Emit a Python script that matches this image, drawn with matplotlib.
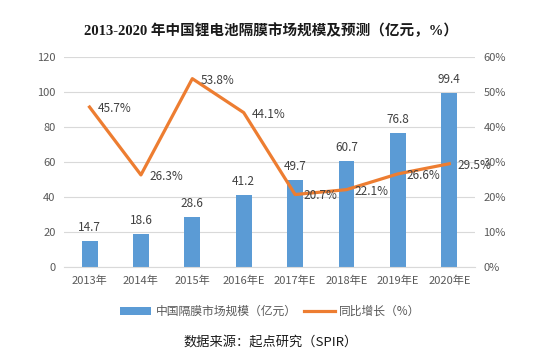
import matplotlib
matplotlib.use("Agg")
import matplotlib.pyplot as plt
import numpy as np

plt.rcParams['font.family'] = ['Noto Sans CJK SC', 'DejaVu Sans']

categories = ["2013年", "2014年", "2015年", "2016年E", "2017年E", "2018年E", "2019年E", "2020年E"]
market_size = [14.7, 18.6, 28.6, 41.2, 49.7, 60.7, 76.8, 99.4]
growth = [45.7, 26.3, 53.8, 44.1, 20.7, 22.1, 26.6, 29.5]
left_ticks = [0, 20, 40, 60, 80, 100, 120]
right_ticks = [0, 10, 20, 30, 40, 50, 60]

bar_color = "#5B9BD5"
line_color = "#ED7D31"
text_color = "#404040"
tick_color = "#595959"

fig = plt.figure(figsize=(5.41, 3.56), dpi=100)
ax = fig.add_axes([0.118, 0.25, 0.76, 0.59])
x = np.arange(len(categories))

bars = ax.bar(x, market_size, width=0.31, color=bar_color, zorder=2,
              label="中国隔膜市场规模（亿元）")
ax.set_ylim(0, 120)
ax.set_xlim(-0.5, len(categories) - 0.5)
ax.set_yticks(left_ticks)
ax.set_yticklabels([str(t) for t in left_ticks])
ax.set_xticks(x)
ax.set_xticklabels(categories)
ax.grid(axis='y', color="#D9D9D9", linewidth=0.8, zorder=0)
for s in ['top', 'right', 'left']:
    ax.spines[s].set_visible(False)
ax.spines['bottom'].set_color("#D9D9D9")
ax.tick_params(axis='both', length=0, labelsize=8, colors=tick_color, pad=6)

for xi, v in zip(x, market_size):
    ax.annotate(f"{v}", (xi, v), xytext=(0, 5), textcoords='offset points',
                ha='center', va='bottom', fontsize=8.5, color=text_color)

ax2 = ax.twinx()
ax2.set_ylim(0, 60)
ax2.set_yticks(right_ticks)
ax2.set_yticklabels([f"{t}%" for t in right_ticks])
line, = ax2.plot(x, growth, color=line_color, linewidth=2.3, zorder=3,
                 label="同比增长（%）")
for s in ['top', 'right', 'left', 'bottom']:
    ax2.spines[s].set_visible(False)
ax2.tick_params(axis='y', length=0, labelsize=8, colors=tick_color, pad=6)

for xi, v in zip(x, growth):
    ax2.annotate(f"{v}%", (xi, v), xytext=(6, -1), textcoords='offset points',
                 ha='left', va='center', fontsize=8.5, color=text_color)

fig.text(0.5, 0.915, "2013-2020 年中国锂电池隔膜市场规模及预测（亿元，%）",
         ha='center', va='center', fontsize=10.5, fontweight='bold', color="#1a1a1a",
         family=['Liberation Serif', 'Noto Sans CJK SC'])

fig.legend(handles=[bars, line], loc='center', bbox_to_anchor=(0.5, 0.125),
           ncol=2, frameon=False, fontsize=8.5, handlelength=2.6, columnspacing=0.6,
           handletextpad=0.4, labelcolor=tick_color)

fig.text(0.5, 0.04, "数据来源：起点研究（SPIR）", ha='center', va='center',
         fontsize=9.5, color="#1a1a1a")

fig.savefig("out.png", dpi=100)
